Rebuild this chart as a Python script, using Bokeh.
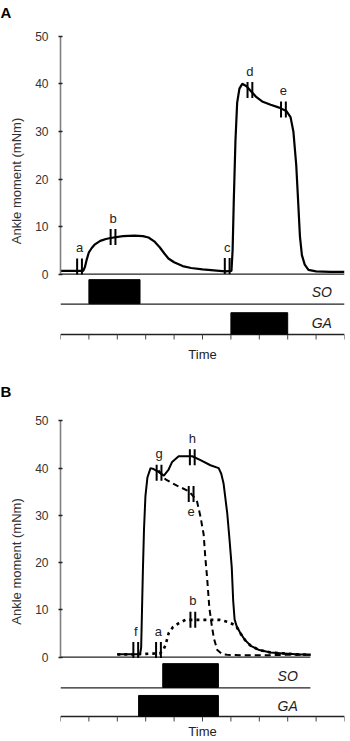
import numpy as np
from bokeh.plotting import figure
from bokeh.models import LinearAxis, FixedTicker, Range1d, Title
from bokeh.layouts import column
from bokeh.embed import file_html
from bokeh.resources import INLINE
from bokeh.core.properties import value

# ---------------- data: panel A ----------------
time_a = [0.0, 0.3, 0.6, 0.8, 0.86, 0.92, 1.0, 1.1, 1.2, 1.4, 1.6, 1.76, 2.2, 2.6, 2.9, 3.1,
          3.3, 3.5, 3.65, 3.8, 4.0, 4.3, 4.6, 5.0, 5.4, 5.8, 6.02, 6.06, 6.1, 6.16, 6.22,
          6.3, 6.4, 6.55, 6.7, 6.9, 7.1, 7.4, 7.7, 7.95, 8.1, 8.2, 8.3, 8.37, 8.43, 8.5,
          8.6, 8.73, 9.0, 9.5, 10.0]
moment_a = [0.7, 0.7, 0.7, 0.7, 1.5, 3.0, 4.6, 5.5, 6.2, 7.0, 7.4, 7.6, 8.0, 8.1, 8.0, 7.7,
            6.9, 5.6, 4.4, 3.3, 2.5, 1.7, 1.3, 1.0, 0.8, 0.6, 0.7, 5.0, 15.0, 28.0, 36.0,
            39.0, 40.0, 39.5, 38.5, 37.2, 36.3, 35.6, 35.0, 34.3, 33.0, 30.0, 23.0, 15.0,
            8.0, 4.0, 2.0, 0.9, 0.6, 0.5, 0.5]
marks_a_label = ["a", "b", "c", "d", "e"]
marks_a_time = [0.67, 1.85, 5.87, 6.67, 7.85]
marks_a_moment = [1.6, 7.8, 1.7, 38.7, 34.6]
marks_a_side = ["above", "above", "above", "above", "above"]
so_a = [1.0, 2.8]
ga_a = [6.0, 8.0]
span_a = [0.0, 10.0]

# ---------------- data: panel B ----------------
time_b_total = [2.0, 2.4, 2.8, 2.84, 2.87, 2.9, 2.94, 2.99, 3.06, 3.17, 3.28, 3.45, 3.64,
                3.8, 3.93, 4.16, 4.64, 4.93, 5.28, 5.57, 5.66, 5.74, 5.87, 5.95, 6.03,
                6.08, 6.13, 6.2, 6.34, 6.5, 6.7, 7.0, 7.4, 7.85, 8.3, 8.8]
moment_b_total = [0.6, 0.6, 0.6, 2.0, 10.0, 18.0, 27.0, 34.0, 38.0, 40.0, 39.8, 39.2, 38.4,
                  39.6, 41.3, 42.5, 42.5, 41.7, 40.6, 40.0, 38.8, 36.8, 30.5, 25.0, 19.0,
                  12.0, 8.0, 6.6, 5.0, 3.6, 2.4, 1.5, 1.0, 0.8, 0.6, 0.5]
time_b_ga = [3.45, 3.7, 4.1, 4.52, 4.68, 4.81, 4.93, 5.04, 5.1, 5.16, 5.24, 5.32, 5.4, 5.52,
             5.7, 5.87, 6.5, 7.2, 8.0, 8.8]
moment_b_ga = [39.5, 37.6, 36.3, 35.1, 34.0, 32.9, 29.7, 26.0, 21.0, 17.0, 10.5, 7.0, 4.0,
               1.5, 0.6, 0.5, 0.4, 0.4, 0.5, 0.5]
time_b_so = [2.0, 2.5, 3.0, 3.5, 3.62, 3.7, 3.81, 3.95, 4.17, 4.4, 4.66, 4.93, 5.28, 5.6,
             5.87, 6.1, 6.2, 6.34, 6.5, 6.7, 7.0, 7.4, 7.85, 8.3, 8.8]
moment_b_so = [0.6, 0.6, 0.7, 0.8, 1.5, 2.6, 5.1, 6.3, 7.2, 7.9, 7.9, 7.9, 7.9, 7.9, 7.5,
               6.9, 6.4, 5.0, 3.6, 2.4, 1.5, 1.0, 0.8, 0.6, 0.5]
marks_b_label = ["f", "a", "b", "g", "h", "e"]
marks_b_time = [2.65, 3.45, 4.66, 3.47, 4.64, 4.6]
marks_b_moment = [1.5, 1.5, 7.9, 39.0, 42.3, 34.5]
marks_b_side = ["above", "above", "above", "above", "above", "below"]
so_b = [3.6, 5.56]
ga_b = [2.75, 5.56]
span_b = [0.0, 8.8]

y_ticks = [0, 10, 20, 30, 40, 50]
x_ticks = [0, 1, 2, 3, 4, 5, 6, 7, 8, 9, 10]

FONT = "Liberation Sans"
PX_PER_X = 28.4  # frame width 284 px over 10 time units


def make_panel(letter, height, border_top, border_bottom, y_start, y_end, px_per_y,
               curves, marks_label, marks_time, marks_moment, marks_side,
               so, ga, span, so_line_y, ga_line_y, so_bar, ga_bar, text_x,
               time_standoff):
    p = figure(width=350, height=height, x_range=Range1d(0, 10),
               y_range=Range1d(y_start, y_end), output_backend="svg",
               toolbar_location=None, x_axis_type=None, y_axis_type=None,
               min_border_left=60, min_border_right=6,
               min_border_top=border_top, min_border_bottom=border_bottom)
    p.outline_line_color = None
    p.grid.visible = False

    p.title = Title(text=letter, align="left", offset=-60, standoff=2,
                    text_font=FONT, text_font_size="15px", text_font_style="bold",
                    text_color="black")

    yax = LinearAxis(bounds=(0, 50), ticker=FixedTicker(ticks=y_ticks),
                     axis_label="Ankle moment (mNm)")
    yax.axis_line_color = "#808080"
    yax.axis_line_width = 1.6
    yax.major_tick_in = 2
    yax.major_tick_out = 2
    yax.major_tick_line_width = 1.5
    yax.major_tick_line_color = "#222222"
    yax.minor_tick_line_color = None
    yax.major_label_text_font = FONT
    yax.major_label_text_font_size = "12px"
    yax.major_label_text_color = "#333333"
    yax.major_label_standoff = 10
    yax.axis_label_text_font = FONT
    yax.axis_label_text_font_size = "13px"
    yax.axis_label_text_font_style = "normal"
    yax.axis_label_text_color = "#333333"
    yax.axis_label_standoff = 8
    p.add_layout(yax, "left")

    # bottom axis only carries the "Time" title; its line and ticks are drawn below
    xax = LinearAxis(ticker=FixedTicker(ticks=[]), axis_label="Time")
    xax.axis_line_color = None
    xax.major_tick_in = 0
    xax.major_tick_out = 0
    xax.minor_tick_line_color = None
    xax.major_label_standoff = 0
    xax.axis_label_text_font = FONT
    xax.axis_label_text_font_size = "13px"
    xax.axis_label_text_font_style = "normal"
    xax.axis_label_text_color = "#222222"
    xax.axis_label_standoff = time_standoff
    p.add_layout(xax, "below")

    # GA line with time ticks
    tick_len = 5.0 / px_per_y
    p.segment(x0=[x_ticks[0]], x1=[x_ticks[-1]], y0=[ga_line_y], y1=[ga_line_y],
              line_color="#222222", line_width=1.3)
    p.segment(x0=x_ticks, x1=x_ticks, y0=[ga_line_y] * len(x_ticks),
              y1=[ga_line_y - tick_len] * len(x_ticks), line_color="#444444", line_width=1)

    # baseline and SO line
    p.segment(x0=[span[0]], x1=[span[1]], y0=[0], y1=[0], line_color="#222222", line_width=1.3)
    p.segment(x0=[span[0]], x1=[span[1]], y0=[so_line_y], y1=[so_line_y],
              line_color="#222222", line_width=1.3)

    # activation bars
    p.quad(left=[so[0]], right=[so[1]], bottom=[so_bar[0]], top=[so_bar[1]],
           fill_color="black", line_color="black")
    p.quad(left=[ga[0]], right=[ga[1]], bottom=[ga_bar[0]], top=[ga_bar[1]],
           fill_color="black", line_color="black")

    # curves
    for t, m, dash, lw in curves:
        p.line(t, m, line_color="black", line_width=lw, line_dash=dash)

    # double-bar markers
    gap = 2.4 / PX_PER_X
    mt = np.array(marks_time)
    for off in (-gap, gap):
        p.scatter(x=mt + off, y=marks_moment, marker="dash", angle=np.pi / 2, size=16,
                  line_color="black", line_width=2)
    offsets = [-19 if s == "above" else 17 for s in marks_side]
    p.text(x=marks_time, y=marks_moment, text=marks_label, y_offset=offsets,
           text_align="center", text_baseline="middle", text_font=value(FONT),
           text_font_size="13px", text_color="#222222")

    # SO / GA row labels
    p.text(x=[text_x, text_x], y=[(so_bar[0] + so_bar[1]) / 2, (ga_bar[0] + ga_bar[1]) / 2],
           text=["SO", "GA"], text_align="center", text_baseline="middle",
           text_font=value(FONT), text_font_size="14px", text_font_style="italic",
           text_color="#222222")
    return p


pa = make_panel("A", 370, 20, 30, -13.94, 53.1, 4.77,
                [(time_a, moment_a, "solid", 2.2)],
                marks_a_label, marks_a_time, marks_a_moment, marks_a_side,
                so_a, ga_a, span_a, -6.3, -12.68, (-6.2, -1.15), (-12.6, -8.1), 9.2, 6)

pb = make_panel("B", 371, 30, 18, -13.82, 54.3, 4.74,
                [(time_b_so, moment_b_so, "3 4", 2.6),
                 (time_b_ga, moment_b_ga, "6 4", 2.0),
                 (time_b_total, moment_b_total, "solid", 2.0)],
                marks_b_label, marks_b_time, marks_b_moment, marks_b_side,
                so_b, ga_b, span_b, -6.5, -12.55, (-6.4, -1.37), (-12.5, -8.1), 8.0, 1)

layout = column(pa, pb, spacing=0)
open("out.html", "w").write(file_html(layout, INLINE))
